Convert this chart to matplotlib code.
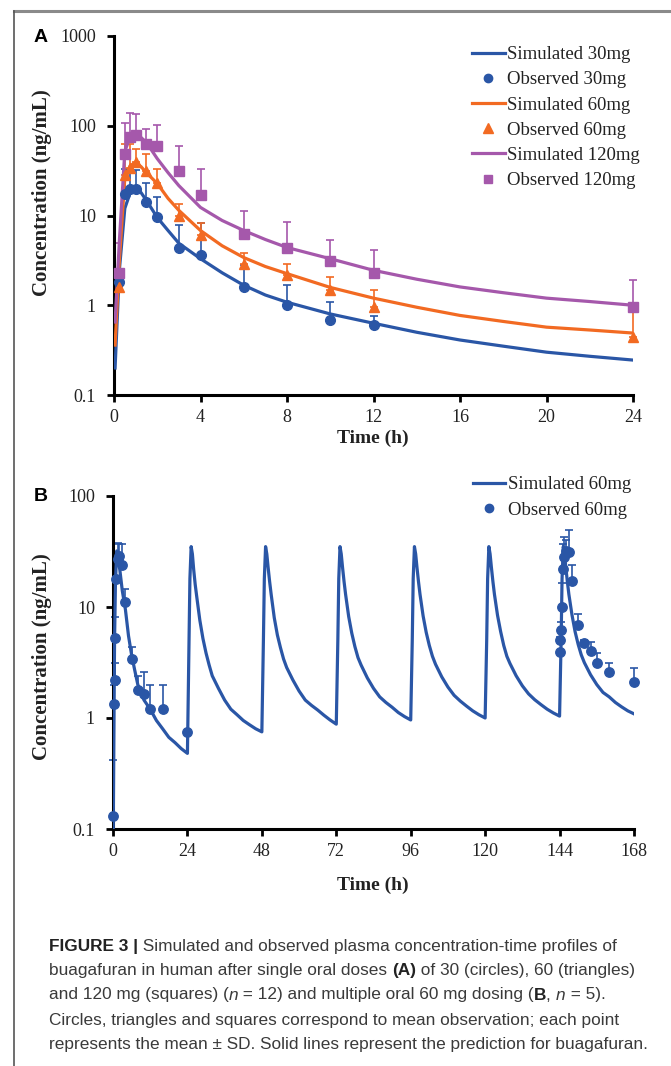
import matplotlib
matplotlib.use("Agg")
import matplotlib.pyplot as plt
from matplotlib.lines import Line2D
from matplotlib.ticker import FixedLocator, FixedFormatter, NullLocator
from matplotlib.font_manager import FontProperties

W, H = 671, 1066

# ---------------- Panel A data ----------------
t_sim_A = [0.05, 0.25, 0.5, 0.75, 1.0, 1.25, 1.5, 2, 2.5, 3, 4, 5, 6, 7, 8, 10, 12, 14, 16, 18, 20, 22, 24]
sim30 = [0.2, 2.5, 12, 18, 20.5, 18, 14.7, 9.5, 6.8, 4.9, 3.3, 2.3, 1.67, 1.3, 1.08, 0.8, 0.63, 0.5, 0.41, 0.35, 0.3, 0.27, 0.245]
sim60 = [0.36, 3.2, 26, 36, 39, 35, 30, 22.7, 15.5, 11.4, 6.8, 4.6, 3.4, 2.7, 2.25, 1.58, 1.2, 0.95, 0.77, 0.66, 0.57, 0.53, 0.49]
sim120 = [0.65, 5.3, 52, 75, 81, 74, 65, 43, 30, 21.5, 12.3, 8.8, 6.8, 5.4, 4.4, 3.3, 2.45, 1.95, 1.6, 1.38, 1.2, 1.1, 1.0]

t_obs30 = [0.25, 0.5, 0.75, 1, 1.5, 2, 3, 4, 6, 8, 10, 12]
obs30 = [1.8, 17.5, 19.5, 19.5, 14, 9.5, 4.4, 3.6, 1.6, 1.0, 0.68, 0.6]
up30 = [2.5, 33, 32, 32, 23, 16, 7.8, 8.2, 2.8, 1.7, 1.1, 0.75]

t_obs60 = [0.25, 0.5, 0.75, 1, 1.5, 2, 3, 4, 6, 8, 10, 12, 24]
obs60 = [1.6, 28, 34, 39, 31, 23, 10, 6, 2.9, 2.15, 1.47, 0.95, 0.44]
up60 = [2.5, 62, 62, 55, 49, 33, 13.6, 8.2, 3.8, 2.9, 2.05, 1.47, 0.84]

t_obs120 = [0.25, 0.5, 0.75, 1, 1.5, 2, 3, 4, 6, 8, 10, 12, 24]
obs120 = [2.3, 49, 74, 79, 63, 60, 31.6, 17, 6.2, 4.4, 3.1, 2.27, 0.95]
up120 = [5, 108, 140, 135, 93, 103, 60, 33, 11.3, 8.4, 5.4, 4.1, 1.9]

xticks_A = [0, 4, 8, 12, 16, 20, 24]
yticks_A = [0.1, 1, 10, 100, 1000]
ylabels_A = ["0.1", "1", "10", "100", "1000"]

# ---------------- Panel B data ----------------
dose_offsets = [0, 0.5, 0.8, 1.2, 1.6, 2, 2.5, 3, 4, 5, 6, 7, 8, 10, 12, 14, 16, 18, 20, 22, 24]
day1 = [0.05, 5, 17, 32, 30, 24, 18, 14, 9.5, 5.5, 3.7, 2.7, 2.0, 1.45, 1.2, 0.95, 0.8, 0.67, 0.6, 0.53, 0.48]
day2 = [0.48, 5, 18, 35, 30, 22, 16, 12.4, 7.6, 5.2, 3.85, 3.0, 2.4, 1.85, 1.45, 1.2, 1.07, 0.95, 0.87, 0.8, 0.75]
day3 = [0.75, 5, 18, 35, 30, 23, 17, 13, 8.0, 5.6, 4.3, 3.4, 2.85, 2.2, 1.75, 1.45, 1.3, 1.18, 1.06, 0.96, 0.88]
day4 = [0.88, 5, 18, 35, 30, 23, 17, 13, 8.2, 5.8, 4.4, 3.5, 3.0, 2.3, 1.85, 1.55, 1.38, 1.25, 1.12, 1.03, 0.96]
day5 = [0.96, 5, 18, 35, 30, 23, 17, 13, 8.3, 5.9, 4.5, 3.6, 3.05, 2.35, 1.9, 1.6, 1.42, 1.28, 1.16, 1.07, 1.0]
day6 = [1.0, 5, 18, 35, 30, 23, 17, 13, 8.4, 6.0, 4.5, 3.6, 3.1, 2.4, 1.95, 1.65, 1.46, 1.32, 1.2, 1.11, 1.04]
day7 = [1.04, 5, 18, 35, 30, 23, 17, 13, 8.5, 6.0, 4.6, 3.7, 3.15, 2.45, 2.0, 1.7, 1.55, 1.38, 1.26, 1.16, 1.09]
sim_days = [day1, day2, day3, day4, day5, day6, day7]
dose_times = [0, 24, 48, 72, 96, 120, 144]

t_obsB = [0, 0.25, 0.5, 0.75, 1, 1.5, 2, 3, 4, 6, 8, 10, 12, 16, 24,
          144, 144.25, 144.5, 144.75, 145, 145.5, 146, 147, 148, 150, 152, 154, 156, 160, 168]
obsB = [0.13, 1.35, 2.2, 5.3, 18, 27, 29, 24, 11, 3.4, 1.8, 1.65, 1.2, 1.2, 0.75,
        3.9, 5.0, 6.2, 10, 22, 28, 32, 31, 17, 6.9, 4.7, 4.0, 3.1, 2.6, 2.1]
upB = [0.42, 2.0, 3.1, 8.1, 30, 38, 37, 37, 14.5, 4.4, 2.4, 2.6, 2.0, 2.0, 0.75,
       3.9, 5.4, 7.3, 16.5, 37, 43, 40, 49, 24, 8.7, 5.0, 4.8, 3.85, 3.1, 2.8]

xticks_B = [0, 24, 48, 72, 96, 120, 144, 168]
yticks_B = [0.1, 1, 10, 100]
ylabels_B = ["0.1", "1", "10", "100"]

BLUE = "#2a56a6"
ORANGE = "#f26a22"
PURPLE = "#a558ab"

SERIF = ["Liberation Serif", "DejaVu Serif"]
SANS = ["Liberation Sans", "DejaVu Sans"]

fig = plt.figure(figsize=(W / 100, H / 100), dpi=100)


def fx(px):
    return px / W


def fy(py):
    return 1 - py / H


# frame lines
fig.add_artist(Line2D([fx(14), 1], [fy(11), fy(11)], transform=fig.transFigure, color="#8a8a8a", lw=2.2))
fig.add_artist(Line2D([fx(14), fx(14)], [0, fy(11)], transform=fig.transFigure, color="#555555", lw=1.2))


def style_axes(ax, xticks, yticks, ylabels, xlim, ylim):
    ax.set_yscale("log")
    ax.set_xlim(*xlim)
    ax.set_ylim(*ylim)
    for s in ["top", "right"]:
        ax.spines[s].set_visible(False)
    for s in ["left", "bottom"]:
        ax.spines[s].set_linewidth(2.2)
        ax.spines[s].set_color("black")
    ax.xaxis.set_major_locator(FixedLocator(xticks))
    ax.xaxis.set_major_formatter(FixedFormatter([str(v) for v in xticks]))
    ax.yaxis.set_major_locator(FixedLocator(yticks))
    ax.yaxis.set_major_formatter(FixedFormatter(ylabels))
    ax.yaxis.set_minor_locator(NullLocator())
    ax.xaxis.set_minor_locator(NullLocator())
    ax.tick_params(axis="both", direction="out", length=5, width=2, color="black")
    ax.tick_params(axis="y", pad=8)
    ax.tick_params(axis="x", pad=5)
    for lab in ax.get_xticklabels() + ax.get_yticklabels():
        lab.set_fontfamily(SERIF)
        lab.set_fontsize(13)
        lab.set_color("#222222")


def err(ax, t, v, up, color, marker, ms):
    yerr = [[0] * len(v), [u - m for u, m in zip(up, v)]]
    ax.errorbar(t, v, yerr=yerr, fmt="none", ecolor=color, elinewidth=1.2,
                capsize=2.6, capthick=1.2, zorder=2, clip_on=False)
    ax.plot(t, v, ls="none", marker=marker, ms=ms, color=color, mec=color,
            zorder=4, clip_on=False)


# ---------------- Panel A ----------------
axA = fig.add_axes([fx(114), fy(395), (633 - 114) / W, (395 - 36) / H])
style_axes(axA, xticks_A, yticks_A, ylabels_A, (0, 24), (0.1, 1000))

err(axA, t_obs30, obs30, up30, BLUE, "o", 7)
err(axA, t_obs60, obs60, up60, ORANGE, "^", 7.5)
err(axA, t_obs120, obs120, up120, PURPLE, "s", 6.5)
axA.plot(t_sim_A, sim30, color=BLUE, lw=2.3, zorder=3)
axA.plot(t_sim_A, sim60, color=ORANGE, lw=2.3, zorder=3)
axA.plot(t_sim_A, sim120, color=PURPLE, lw=2.3, zorder=3)

handlesA = [
    Line2D([], [], color=BLUE, lw=2.3),
    Line2D([], [], color=BLUE, ls="none", marker="o", ms=6),
    Line2D([], [], color=ORANGE, lw=2.3),
    Line2D([], [], color=ORANGE, ls="none", marker="^", ms=6.5),
    Line2D([], [], color=PURPLE, lw=2.3),
    Line2D([], [], color=PURPLE, ls="none", marker="s", ms=5.5),
]
labelsA = ["Simulated 30mg", "Observed 30mg", "Simulated 60mg",
           "Observed 60mg", "Simulated 120mg", "Observed 120mg"]
legA = axA.legend(handlesA, labelsA, loc="upper left",
                  bbox_to_anchor=(fx(472), fy(46)), bbox_transform=fig.transFigure,
                  frameon=False, prop=FontProperties(family=SERIF, size=13.5),
                  handlelength=1.75, handletextpad=0.12, labelspacing=0.43,
                  borderpad=0, borderaxespad=0)
for t in legA.get_texts():
    t.set_color("#222222")

# ---------------- Panel B ----------------
axB = fig.add_axes([fx(113), fy(829), (634 - 113) / W, (829 - 496) / H])
style_axes(axB, xticks_B, yticks_B, ylabels_B, (0, 168), (0.1, 100))

simB_t = []
simB_v = []
for d0, vals in zip(dose_times, sim_days):
    simB_t.extend([d0 + o for o in dose_offsets])
    simB_v.extend(vals)
axB.plot(simB_t, simB_v, color=BLUE, lw=2.3, zorder=3)
err(axB, t_obsB, obsB, upB, BLUE, "o", 6.8)

handlesB = [Line2D([], [], color=BLUE, lw=2.3),
            Line2D([], [], color=BLUE, ls="none", marker="o", ms=6)]
legB = axB.legend(handlesB, ["Simulated 60mg", "Observed 60mg"], loc="upper left",
                  bbox_to_anchor=(fx(473), fy(476)), bbox_transform=fig.transFigure,
                  frameon=False, prop=FontProperties(family=SERIF, size=13.5),
                  handlelength=1.7, handletextpad=0.15, labelspacing=0.46,
                  borderpad=0, borderaxespad=0)
for t in legB.get_texts():
    t.set_color("#222222")

# axis labels
lab_kw = dict(family=SERIF, fontweight="bold", color="#222222")
fig.text(fx(42), fy(193), "Concentration (ng/mL)", rotation=90, ha="center", va="center",
         fontsize=15, **lab_kw)
fig.text(fx(42), fy(657), "Concentration (ng/mL)", rotation=90, ha="center", va="center",
         fontsize=15, **lab_kw)
fig.text(fx(373), fy(438), "Time (h)", ha="center", va="center", fontsize=14, **lab_kw)
fig.text(fx(373), fy(885), "Time (h)", ha="center", va="center", fontsize=14, **lab_kw)

# panel letters
fig.text(fx(41), fy(38), "A", ha="center", va="center", family=SANS, fontsize=14, fontweight="bold")
fig.text(fx(41), fy(497), "B", ha="center", va="center", family=SANS, fontsize=14, fontweight="bold")

# ---------------- Caption ----------------
renderer = fig.canvas.get_renderer()
CAP_SIZE = 12.4
CAP_COLOR = "#3a3a3a"


def fp_for(kind):
    if kind == "b":
        return FontProperties(family=SANS, size=CAP_SIZE, weight="bold")
    if kind == "i":
        return FontProperties(family=SANS, size=CAP_SIZE, style="italic")
    return FontProperties(family=SANS, size=CAP_SIZE)


def text_w(s, fp):
    w1, _, _ = renderer.get_text_width_height_descent("|" + s + "|", fp, ismath=False)
    w0, _, _ = renderer.get_text_width_height_descent("||", fp, ismath=False)
    return w1 - w0


def rich_line(pieces, x_px, y_px):
    x = x_px
    for s, kind in pieces:
        fp = fp_for(kind)
        col = "#222222" if kind == "b" else CAP_COLOR
        fig.text(x / W, fy(y_px), s, fontproperties=fp, color=col, ha="left", va="center")
        x += text_w(s, fp)


caption = [
    [("FIGURE 3 |", "b"), (" Simulated and observed plasma concentration-time profiles of", "n")],
    [("buagafuran in human after single oral doses ", "n"), ("(A)", "b"),
     (" of 30 (circles), 60 (triangles)", "n")],
    [("and 120 mg (squares) (", "n"), ("n", "i"), (" = 12) and multiple oral 60 mg dosing (", "n"),
     ("B", "b"), (", ", "n"), ("n", "i"), (" = 5).", "n")],
    [("Circles, triangles and squares correspond to mean observation; each point", "n")],
    [("represents the mean \u00b1 SD. Solid lines represent the prediction for buagafuran.", "n")],
]
cap_y = [946, 971, 995, 1020, 1045]
for pieces, yy in zip(caption, cap_y):
    rich_line(pieces, 49, yy)

fig.savefig("out.png", dpi=100)
